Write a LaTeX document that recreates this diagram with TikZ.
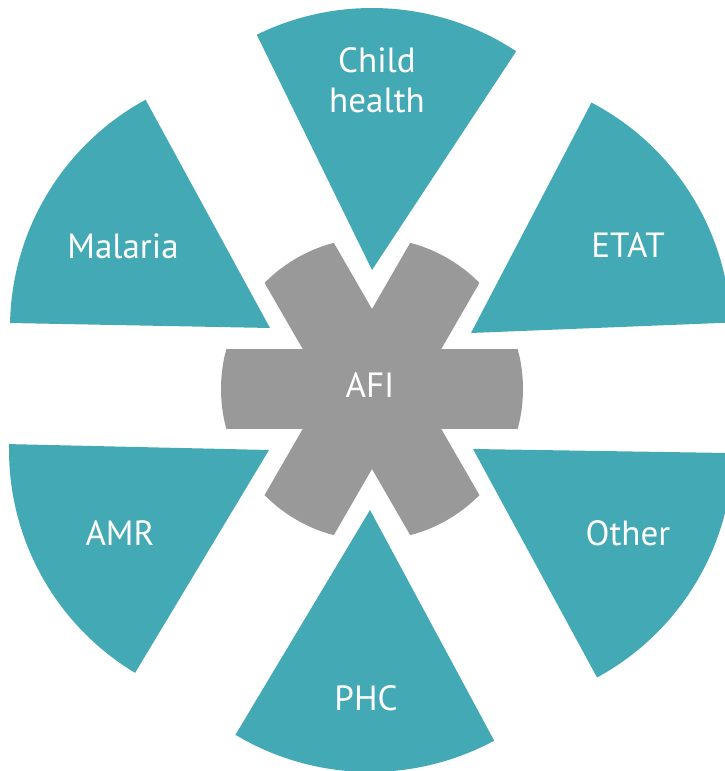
\documentclass[tikz,border=0pt]{standalone}
\usepackage{fontspec}
\setmainfont{PT Sans}
\definecolor{afiTeal}{RGB}{67,170,181}
\definecolor{afiGray}{RGB}{153,153,153}
\begin{document}
\begin{tikzpicture}[x=1pt,y=1pt,
	sector/.style={fill=afiTeal},
	hub/.style={fill=afiGray},
	tag/.style={text=white,font=\fontsize{35}{40}\selectfont,inner sep=0pt}]
	\useasboundingbox (0,0) rectangle (725,771);
	\clip (0,0) rectangle (725,771);

	% outer sectors
	\fill[sector] (372,501) -- ++(56.6:262pt) arc[start angle=56.6,end angle=116.1,radius=262pt] -- cycle;
	\fill[sector] (471,438) -- ++(2.3:260pt) arc[start angle=2.3,end angle=62.4,radius=260pt] -- cycle;
	\fill[sector] (270,443) -- ++(118.6:260pt) arc[start angle=118.6,end angle=178.9,radius=260pt] -- cycle;
	\fill[sector] (269,321) -- ++(178.7:260pt) arc[start angle=178.7,end angle=239,radius=260pt] -- cycle;
	\fill[sector] (370,261) -- ++(239.1:262pt) arc[start angle=239.1,end angle=298.3,radius=262pt] -- cycle;
	\fill[sector] (473,322) -- ++(298.5:260pt) arc[start angle=298.5,end angle=359.1,radius=260pt] -- cycle;

	% centre star
	\begin{scope}[shift={(372,382)}]
		\clip (0,0) circle (151pt);
		\fill[hub] (-160,-40) rectangle (160,40);
		\fill[hub,rotate=60] (-160,-40) rectangle (160,40);
		\fill[hub,rotate=120] (-160,-40) rectangle (160,40);
	\end{scope}

	% labels
	\node (childNode) at (377,691)[tag,align=center] {Child\\health};
	\node (etatNode) at (628,513)[tag,anchor=base] {ETAT};
	\node (malariaNode) at (123,512)[tag,anchor=base] {Malaria};
	\node (amrNode) at (120,225)[tag,anchor=base] {AMR};
	\node (otherNode) at (628,225)[tag,anchor=base] {Other};
	\node (phcNode) at (366,60)[tag,anchor=base] {PHC};
	\node (afiNode) at (370,373)[tag,anchor=base] {AFI};
\end{tikzpicture}
\end{document}
